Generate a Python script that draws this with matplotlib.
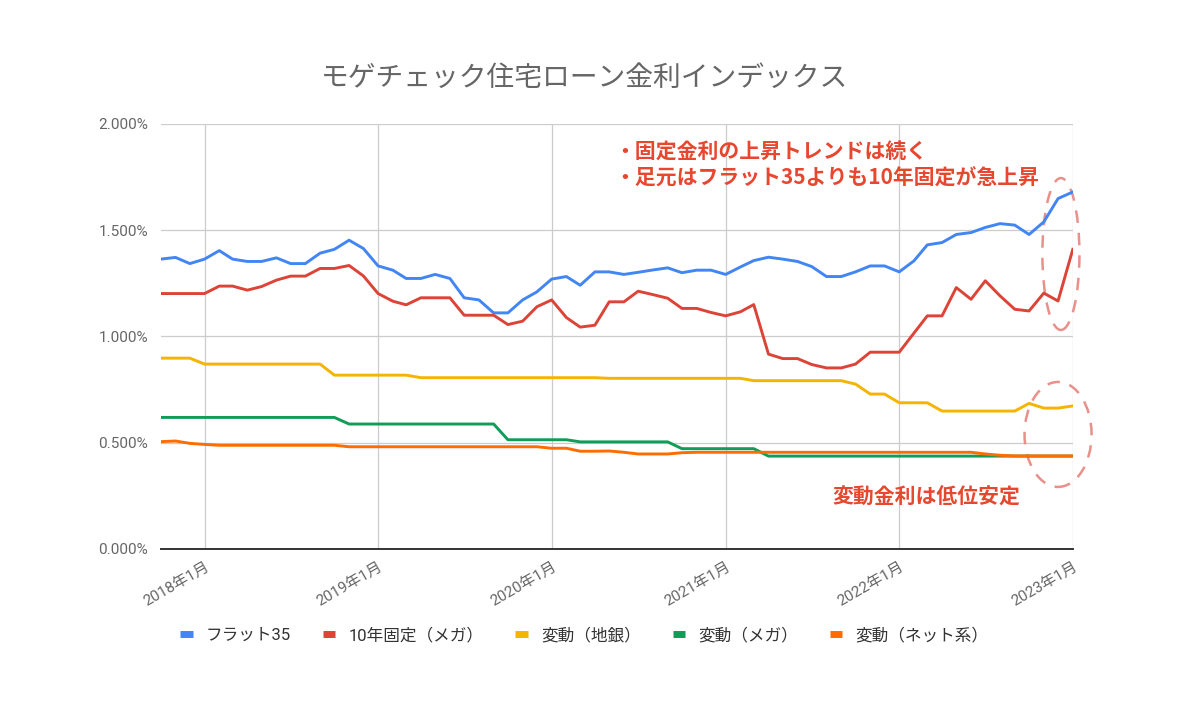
import numpy as np
import pandas as pd
import matplotlib
matplotlib.use('Agg')
import matplotlib.pyplot as plt
import matplotlib.dates as mdates
import matplotlib.transforms as mtransforms
from matplotlib.patches import Ellipse
from matplotlib.lines import Line2D

plt.rcParams['font.family'] = ['Roboto', 'Noto Sans CJK JP', 'DejaVu Sans']

# monthly, 2017-10 .. 2023-01
months = pd.date_range('2017-10-01', '2023-01-01', freq='MS')

flat35 = [1.364, 1.372, 1.343, 1.364, 1.404, 1.364, 1.353, 1.353, 1.370, 1.343,
          1.343, 1.392, 1.410, 1.453, 1.414, 1.332, 1.312, 1.273, 1.273, 1.292,
          1.273, 1.182, 1.172, 1.111, 1.111, 1.172, 1.210, 1.270, 1.282, 1.241,
          1.304, 1.304, 1.292, 1.302, 1.313, 1.323, 1.300, 1.312, 1.312, 1.292,
          1.327, 1.357, 1.373, 1.364, 1.353, 1.329, 1.282, 1.282, 1.304, 1.332,
          1.332, 1.304, 1.356, 1.431, 1.442, 1.480, 1.489, 1.513, 1.531, 1.524,
          1.480, 1.539, 1.649, 1.680]

fixed10 = [1.202, 1.202, 1.202, 1.202, 1.237, 1.237, 1.218, 1.235, 1.265, 1.284,
           1.284, 1.320, 1.320, 1.334, 1.285, 1.202, 1.166, 1.149, 1.182, 1.182,
           1.182, 1.100, 1.100, 1.100, 1.056, 1.072, 1.140, 1.172, 1.089, 1.044,
           1.053, 1.163, 1.163, 1.213, 1.197, 1.180, 1.132, 1.132, 1.113, 1.097,
           1.116, 1.150, 0.917, 0.896, 0.896, 0.868, 0.852, 0.852, 0.870, 0.926,
           0.926, 0.926, 1.016, 1.097, 1.097, 1.230, 1.175, 1.262, 1.191, 1.128,
           1.120, 1.204, 1.167, 1.410]

var_chigin = [0.898, 0.898, 0.898, 0.870, 0.870, 0.870, 0.870, 0.870, 0.870, 0.870,
              0.870, 0.870, 0.818, 0.818, 0.818, 0.818, 0.818, 0.818, 0.806, 0.806,
              0.806, 0.806, 0.806, 0.806, 0.806, 0.806, 0.806, 0.806, 0.806, 0.806,
              0.806, 0.803, 0.803, 0.803, 0.803, 0.803, 0.803, 0.803, 0.803, 0.803,
              0.803, 0.792, 0.792, 0.792, 0.792, 0.792, 0.792, 0.792, 0.776, 0.729,
              0.729, 0.688, 0.688, 0.688, 0.649, 0.649, 0.649, 0.649, 0.649, 0.649,
              0.685, 0.663, 0.663, 0.673]

var_mega = [0.619, 0.619, 0.619, 0.619, 0.619, 0.619, 0.619, 0.619, 0.619, 0.619,
            0.619, 0.619, 0.619, 0.588, 0.588, 0.588, 0.588, 0.588, 0.588, 0.588,
            0.588, 0.588, 0.588, 0.588, 0.514, 0.514, 0.514, 0.514, 0.514, 0.504,
            0.504, 0.504, 0.504, 0.504, 0.504, 0.504, 0.472, 0.472, 0.472, 0.472,
            0.472, 0.472, 0.437, 0.437, 0.437, 0.437, 0.437, 0.437, 0.437, 0.437,
            0.437, 0.437, 0.437, 0.437, 0.437, 0.437, 0.437, 0.437, 0.437, 0.437,
            0.437, 0.437, 0.437, 0.437]

var_net = [0.505, 0.508, 0.497, 0.492, 0.488, 0.488, 0.488, 0.488, 0.488, 0.488,
           0.488, 0.488, 0.488, 0.481, 0.481, 0.481, 0.481, 0.481, 0.481, 0.481,
           0.481, 0.481, 0.481, 0.481, 0.481, 0.481, 0.481, 0.474, 0.474, 0.460,
           0.460, 0.461, 0.455, 0.447, 0.447, 0.447, 0.453, 0.455, 0.455, 0.455,
           0.455, 0.455, 0.455, 0.455, 0.455, 0.455, 0.455, 0.455, 0.455, 0.455,
           0.455, 0.455, 0.455, 0.455, 0.455, 0.455, 0.455, 0.447, 0.441, 0.438,
           0.438, 0.438, 0.438, 0.438]

series = [
    ('フラット35', flat35, '#4285F4'),
    ('10年固定（メガ）', fixed10, '#DB4437'),
    ('変動（地銀）', var_chigin, '#F4B400'),
    ('変動（メガ）', var_mega, '#0F9D58'),
    ('変動（ネット系）', var_net, '#FF6D01'),
]

year_ticks = pd.to_datetime(['2018-01-01', '2019-01-01', '2020-01-01',
                             '2021-01-01', '2022-01-01', '2023-01-01'])
year_labels = ['2018年1月', '2019年1月', '2020年1月', '2021年1月', '2022年1月', '2023年1月']
y_ticks = [0, 0.5, 1.0, 1.5, 2.0]

fig = plt.figure(figsize=(12, 7.1), dpi=100)
ax = fig.add_axes([0.134, 0.2268, 0.76, 0.5986])

for name, vals, col in series:
    ax.plot(months, vals, color=col, lw=2.1, label=name, solid_joinstyle='round')

ax.set_xlim(months[0], months[-1])
ax.set_ylim(0, 2.0)
ax.set_yticks(y_ticks)
ax.set_yticklabels(['%.3f%%' % v for v in y_ticks])
ax.set_xticks(year_ticks)
ax.set_xticklabels(year_labels, rotation=30, ha='right', va='top', rotation_mode='anchor')
offset = mtransforms.ScaledTranslation(0.18, 0, fig.dpi_scale_trans)
for lab in ax.get_xticklabels():
    lab.set_transform(lab.get_transform() + offset)

ax.tick_params(axis='both', length=0, labelsize=11, colors='#666666')
ax.tick_params(axis='y', pad=9)
ax.tick_params(axis='x', pad=8)
ax.grid(True, color='#cccccc', lw=0.9)
ax.set_axisbelow(True)
for s in ['top', 'right', 'left']:
    ax.spines[s].set_visible(False)
ax.spines['bottom'].set_color('#333333')
ax.spines['bottom'].set_linewidth(1.4)

fig.text(0.487, 0.89, 'モゲチェック住宅ローン金利インデックス', ha='center', va='center',
         fontsize=20, color='#666666', family=['Noto Sans CJK JP'])

red_txt = '#E8472F'
fig.text(0.512, 0.786, '・固定金利の上昇トレンドは続く', ha='left', va='center',
         fontsize=15, fontweight='bold', color=red_txt, family=['Noto Sans CJK JP'])
fig.text(0.512, 0.749, '・足元はフラット35よりも10年固定が急上昇', ha='left', va='center',
         fontsize=15, fontweight='bold', color=red_txt, family=['Noto Sans CJK JP'])
fig.text(0.694, 0.30, '変動金利は低位安定', ha='left', va='center',
         fontsize=15, fontweight='bold', color=red_txt, family=['Noto Sans CJK JP'])

# dashed circles around the latest points
e1 = Ellipse((mdates.date2num(pd.Timestamp('2022-12-07')), 1.388), 78, 0.715,
             fill=False, ec='#E8908A', lw=1.8, ls=(0, (5, 4)), clip_on=False)
e2 = Ellipse((mdates.date2num(pd.Timestamp('2022-12-01')), 0.539), 141, 0.494,
             fill=False, ec='#E8908A', lw=1.8, ls=(0, (5, 4)), clip_on=False)
ax.add_patch(e1)
ax.add_patch(e2)

handles = [Line2D([], [], color=c, lw=5, solid_capstyle='butt') for _, _, c in series]
fig.legend(handles, [n for n, _, _ in series], loc='center',
           bbox_to_anchor=(0.487, 1 - 635 / 710), ncol=5, frameon=False,
           fontsize=12, handlelength=0.75, handletextpad=0.8, columnspacing=1.9,
           labelcolor='#333333')

fig.savefig('out.png', dpi=100, facecolor='white')
